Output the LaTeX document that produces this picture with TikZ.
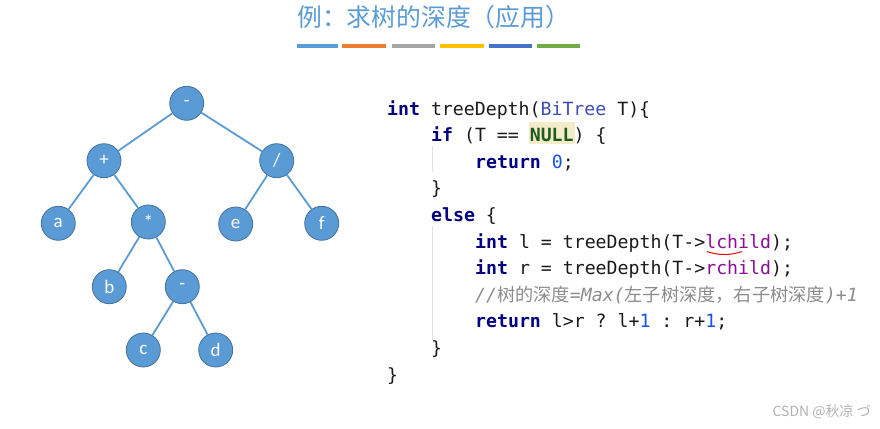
\documentclass[tikz,border=0pt]{standalone}
\usepackage{fontspec}
\setmainfont{Carlito}
\setmonofont{DejaVu Sans Mono}
\newfontfamily\cjk{Noto Sans CJK SC}
\definecolor{nodefill}{HTML}{5B9BD5}
\definecolor{nodeline}{HTML}{41719C}
\definecolor{titlec}{HTML}{5B9BD5}
\definecolor{kwc}{HTML}{000080}
\definecolor{typec}{HTML}{3F4FB0}
\definecolor{nullc}{HTML}{1F5A1F}
\definecolor{nullbg}{HTML}{F2EDC8}
\definecolor{numc}{HTML}{1750EB}
\definecolor{fieldc}{HTML}{871094}
\definecolor{commc}{HTML}{8C8C8C}
\definecolor{guidec}{HTML}{E2E2E2}
\definecolor{barA}{HTML}{5B9BD5}
\definecolor{barB}{HTML}{ED7D31}
\definecolor{barC}{HTML}{A5A5A5}
\definecolor{barD}{HTML}{FFC000}
\definecolor{barE}{HTML}{4472C4}
\definecolor{barF}{HTML}{70AD47}
\newcommand\codekw[1]{\textcolor{kwc}{\bfseries #1}}
\begin{document}
\begin{tikzpicture}[x=1pt,y=-1pt,
  tnode/.style={circle, fill=nodefill, draw=nodeline, line width=0.8pt, minimum size=34pt, inner sep=0pt, text=white, font=\fontsize{19}{22}\selectfont},
  tedge/.style={draw=nodefill, line width=1.8pt},
  codeline/.style={anchor=base west, inner sep=0pt, font=\fontsize{18.2}{20}\ttfamily, text=black!90},
  guide/.style={draw=guidec, line width=0.8pt},
  bar/.style={line width=4pt}]
\useasboundingbox (0,0) rectangle (880,428);
% title
\node[anchor=west, inner sep=0pt, text=titlec, font=\fontsize{24.8}{28}\cjk] (title) at (297,17) {例：求树的深度（应用）};
\draw[bar, barA] (297,46) -- (338,46);
\draw[bar, barB] (342,46) -- (386,46);
\draw[bar, barC] (392,46) -- (435,46);
\draw[bar, barD] (440,46) -- (484,46);
\draw[bar, barE] (489,46) -- (532,46);
\draw[bar, barF] (537,46) -- (580,46);
% tree
\node[tnode] (root) at (186.7,103.3) {-};
\node[tnode] (plus) at (104,160.7) {+};
\node[tnode] (div) at (276.7,160.7) {/};
\node[tnode] (a) at (58.3,223.3) {a};
\node[tnode] (mul) at (148.3,222) {*};
\node[tnode] (e) at (235.7,224) {e};
\node[tnode] (f) at (321.7,223.3) {f};
\node[tnode] (b) at (109.3,286.7) {b};
\node[tnode] (minus) at (182.3,286.7) {-};
\node[tnode] (c) at (143.3,350) {c};
\node[tnode] (d) at (215.7,350) {d};
\draw[tedge] (root) -- (plus);
\draw[tedge] (root) -- (div);
\draw[tedge] (plus) -- (a);
\draw[tedge] (plus) -- (mul);
\draw[tedge] (div) -- (e);
\draw[tedge] (div) -- (f);
\draw[tedge] (mul) -- (b);
\draw[tedge] (mul) -- (minus);
\draw[tedge] (minus) -- (c);
\draw[tedge] (minus) -- (d);
% code
\fill[nullbg] (529,122) rectangle (575,144);
\draw[guide] (432,146) -- (432,172);
\draw[guide] (432,226) -- (432,340);
\node[codeline] (L1) at (387,115) {\codekw{int} treeDepth(\textcolor{typec}{BiTree} T)\{};
\node[codeline] (L2) at (431,141.6) {\codekw{if} (T == \textcolor{nullc}{\bfseries NULL}) \{};
\node[codeline] (L3) at (475,168.2) {\codekw{return} \textcolor{numc}{0};};
\node[codeline] (L4) at (431,194.8) {\}};
\node[codeline] (L5) at (431,221.4) {\codekw{else} \{};
\node[codeline] (L6) at (475,248) {\codekw{int} l = treeDepth(T->\textcolor{fieldc}{lchild});};
\node[codeline] (L7) at (475,274.6) {\codekw{int} r = treeDepth(T->\textcolor{fieldc}{rchild});};
\node[codeline, text=commc] (L8) at (475,301.2) {{\itshape //}{\cjk 树的深度}{\itshape =Max(}{\cjk 左子树深度，右子树深度}{\itshape )+1}};
\node[codeline] (L9) at (475,327.8) {\codekw{return} l>r ? l+\textcolor{numc}{1} : r+\textcolor{numc}{1};};
\node[codeline] (L10) at (431,354.4) {\}};
\node[codeline] (L11) at (387,381) {\}};
\draw[red, line width=1pt] (707,251.5) .. controls (718,255.5) and (731,255.5) .. (742,251.5);
% watermark
\node[anchor=east, inner sep=0pt, text=black!30, font=\fontsize{14}{16}\cjk] (wm) at (871,412) {CSDN @秋凉 づ};
\end{tikzpicture}
\end{document}
